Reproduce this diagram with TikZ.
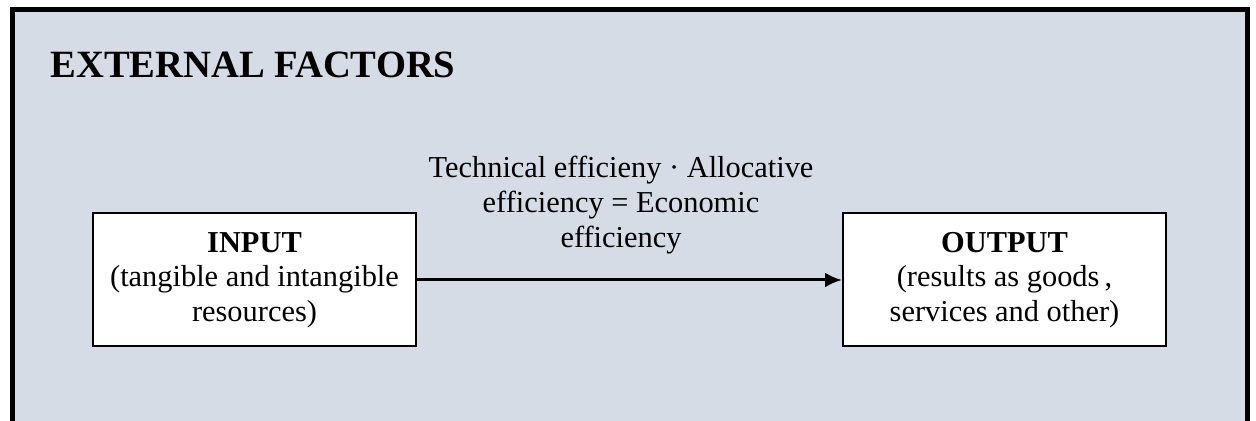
\documentclass[tikz,border=0pt]{standalone}
\usepackage{fontspec}
\setmainfont{Liberation Serif}
\usetikzlibrary{arrows.meta}
\definecolor{fonblue}{RGB}{214,220,229}

\begin{document}
\begin{tikzpicture}[x=0.5pt, y=0.5pt, >={Latex[length=8.5pt,width=7.5pt]},
    box/.style={draw, line width=1pt, fill=white, minimum width=161.5pt,
        minimum height=66.5pt, align=center, inner sep=0pt,
        font=\fontsize{15.2}{17.3}\selectfont}]
    % Рамка
    \useasboundingbox (0,0) rectangle (1256,421);
    \fill[fonblue] (12.5,0) rectangle (1247.5,411.5);
    \draw[line width=2.5pt] (12.5,0) -- (12.5,411.5)
    -- (1247.5,411.5) -- (1247.5,0);
    % Заголовок
    \node[anchor=base west, inner sep=0,
        font=\fontsize{19.3}{23}\selectfont\bfseries] (title) at (50,343)
    {EXTERNAL FACTORS};
    % Блоки
    \node[box] (in) at (254.5,141)
    {\textbf{INPUT}\\(tangible and intangible\\resources)};
    \node[box] (out) at (1004.5,141)
    {\textbf{OUTPUT}\\(results as goods\,,\\services and other)};
    % Стрелка
    \draw[->, line width=1.5pt] (in.east) -- (out.west);
    \node[align=center, inner sep=0,
        font=\fontsize{15.2}{17.3}\selectfont] (eff) at (621,216)
    {Technical efficieny · Allocative\\efficiency = Economic\\efficiency};
\end{tikzpicture}
\end{document}
